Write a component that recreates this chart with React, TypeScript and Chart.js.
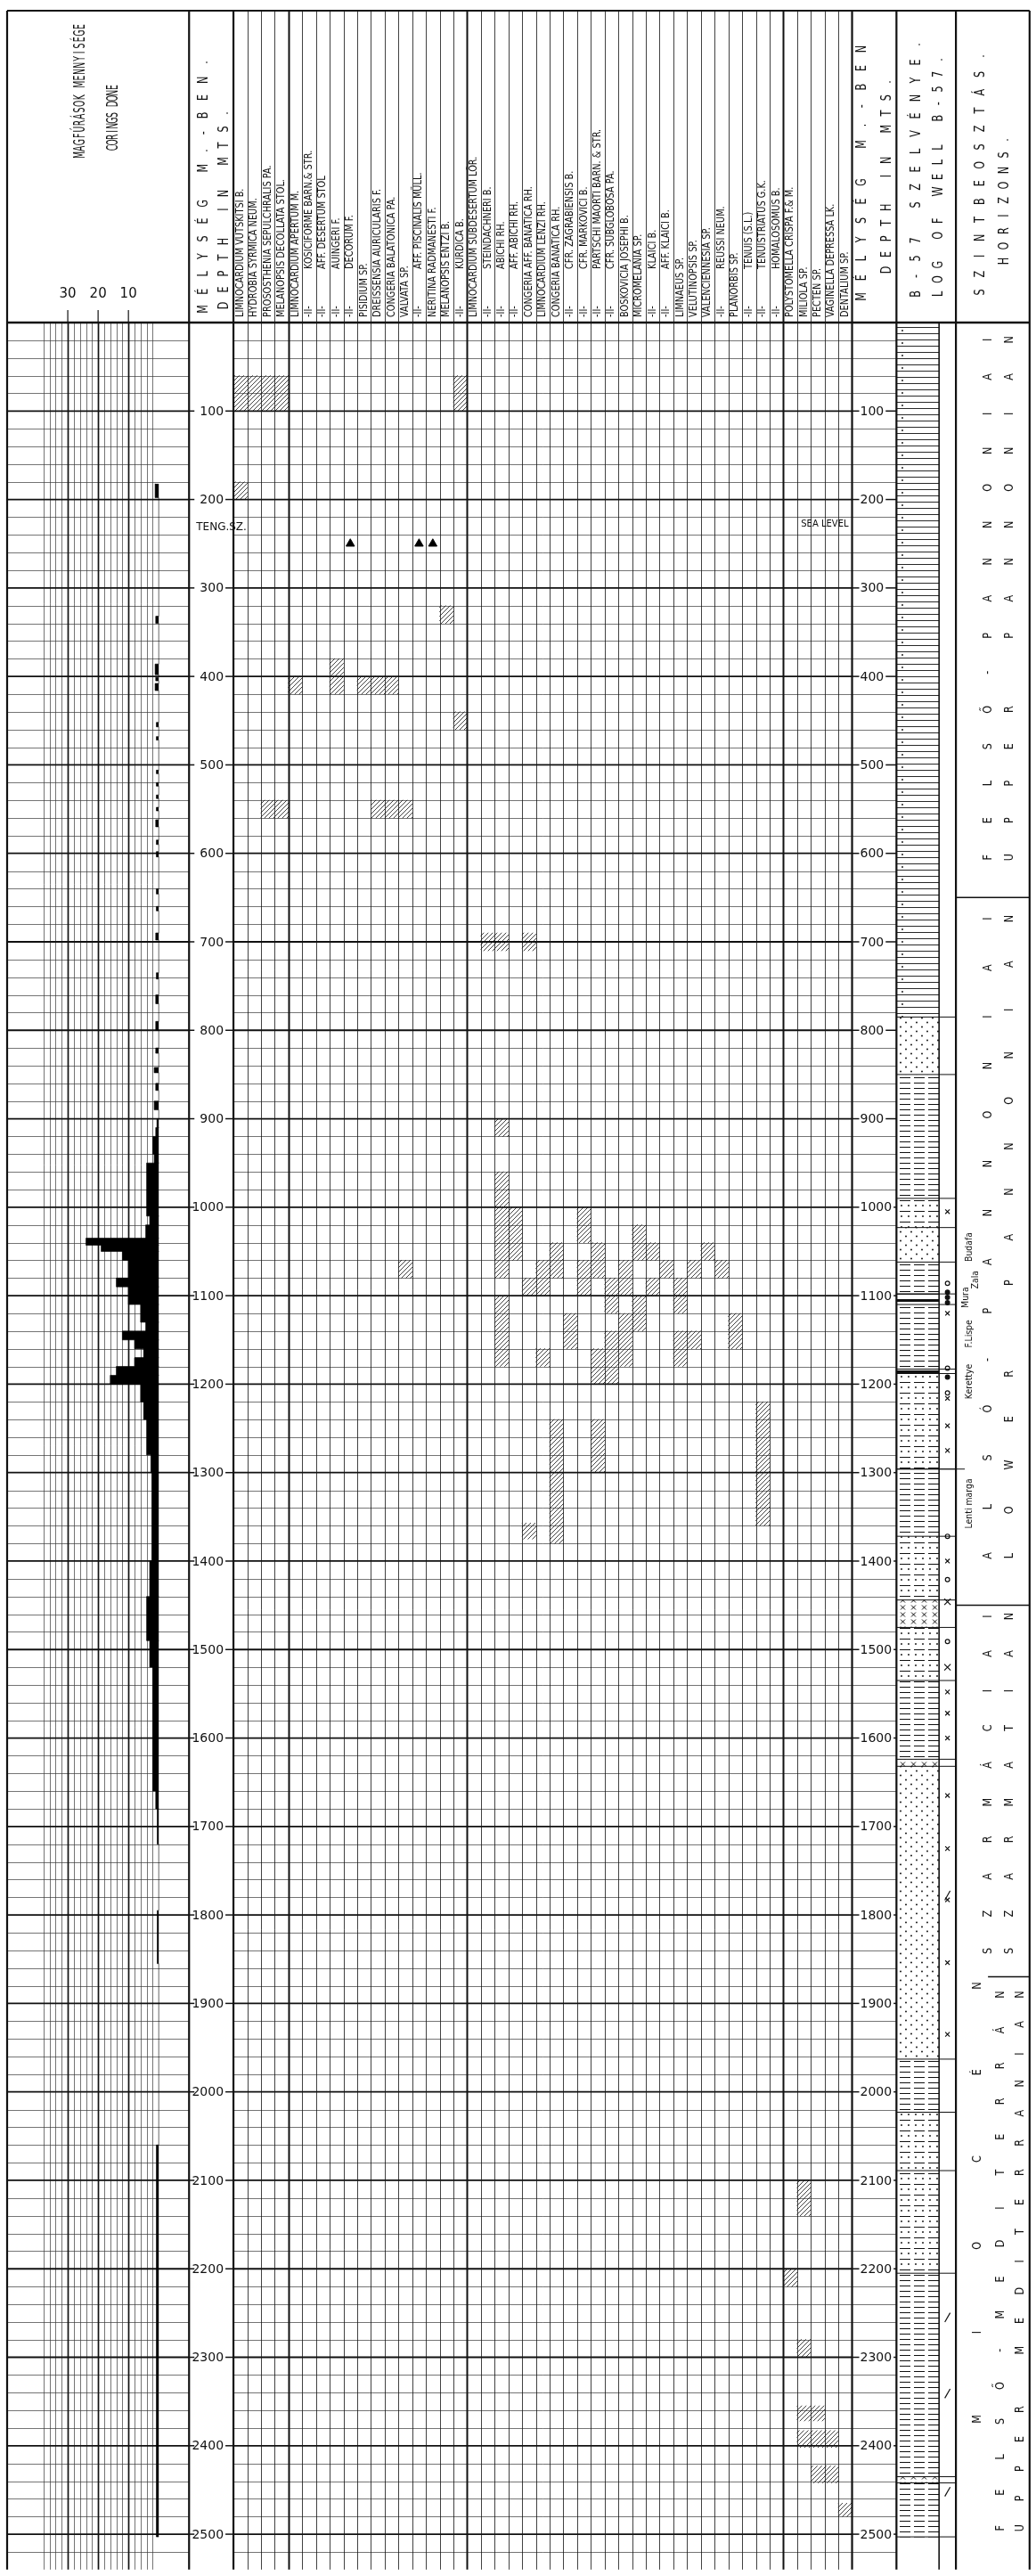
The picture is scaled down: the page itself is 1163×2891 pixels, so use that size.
import React, { useEffect, useRef } from 'react';
import { Chart, registerables } from 'chart.js';

Chart.register(...registerables);

// ------------------------------------------------------------------ DATA
const depthMin = 0;
const depthMax = 2540;
const depthTicks = [100, 200, 300, 400, 500, 600, 700, 800, 900, 1000, 1100, 1200, 1300, 1400, 1500, 1600, 1700, 1800, 1900, 2000, 2100, 2200, 2300, 2400, 2500];
const coringMax = 40;
const coringTicks = [30, 20, 10];

const fossilGroup1 = [
  'LIMNOCARDIUM VUTSKITSI B.',
  'HYDROBIA SYRMICA NEUM.',
  'PROSOSTHENIA SEPULCHRALIS PA.',
  'MELANOPSIS DECOLLATA STOL.',
];
const fossilGroup2 = [
  'LIMNOCARDIUM APERTUM M.',
  '-II-|KOSICIFORME BARN.& STR.',
  '-II-|AFF. DESERTUM STOL',
  '-II-|AUINGERI F.',
  '-II-|DECORUM F.',
  'PISIDIUM SP.',
  'DREISSENSIA AURICULARIS F.',
  'CONGERIA BALATONICA PA.',
  'VALVATA SP.',
  '-II-|AFF. PISCINALIS MÜLL.',
  'NERITINA RADMANESTI F.',
  'MELANOPSIS ENTZI B.',
  '-II-|KURDICA B.',
];
const fossilGroup3 = [
  'LIMNOCARDIUM SUBDESERTUM LÖR.',
  '-II-|STEINDACHNERI B.',
  '-II-|ABICHI RH.',
  '-II-|AFF. ABICHI RH.',
  'CONGERIA AFF. BANATICA RH.',
  'LIMNOCARDIUM LENZI RH.',
  'CONGERIA BANATICA RH.',
  '-II-|CFR. ZAGRABIENSIS B.',
  '-II-|CFR. MARKOVICI B.',
  '-II-|PARTSCHI MAORTI BARN. & STR.',
  '-II-|CFR. SUBGLOBOSA PA.',
  'BOSKOVICIA JOSEPHI B.',
  'MICROMELANIA SP.',
  '-II-|KLAICI B.',
  '-II-|AFF. KLAICI B.',
  'LIMNAEUS SP.',
  'VELUTINOPSIS SP.',
  'VALENCIENNESIA SP.',
  '-II-|REUSSI NEUM.',
  'PLANORBIS SP.',
  '-II-|TENUIS (S.L.)',
  '-II-|TENUISTRIATUS G.K.',
  '-II-|HOMALOSOMUS B.',
];
const fossilGroup4 = [
  'POLYSTOMELLA CRISPA F.& M.',
  'MILIOLA SP.',
  'PECTEN SP.',
  'VAGINELLA DEPRESSA LK.',
  'DENTALIUM SP.',
];
const fossilNames = [...fossilGroup1, ...fossilGroup2, ...fossilGroup3, ...fossilGroup4];
const fossilGroupSizes = [fossilGroup1.length, fossilGroup2.length, fossilGroup3.length, fossilGroup4.length];

// [column index, top depth, bottom depth]
const fossilOccurrences: [number, number, number][] = [
  [0, 60, 100], [1, 60, 100], [2, 60, 100], [3, 60, 100], [16, 60, 100],
  [0, 180, 200],
  [15, 320, 340],
  [7, 380, 420], [4, 400, 420], [9, 400, 420], [10, 400, 420], [11, 400, 420],
  [16, 440, 460],
  [2, 540, 560], [3, 540, 560], [10, 540, 560], [11, 540, 560], [12, 540, 560],
  [18, 690, 710], [19, 690, 710], [21, 690, 710],
  [19, 900, 920],
  [12, 1060, 1080],
  [19, 960, 1080], [19, 1100, 1180],
  [20, 1000, 1060],
  [21, 1080, 1100], [21, 1357, 1375],
  [22, 1060, 1100], [22, 1160, 1180],
  [23, 1040, 1080], [23, 1240, 1380],
  [24, 1120, 1160],
  [25, 1000, 1040], [25, 1060, 1100],
  [26, 1040, 1080], [26, 1160, 1200], [26, 1240, 1300],
  [27, 1080, 1120], [27, 1140, 1200],
  [28, 1060, 1100], [28, 1120, 1180],
  [29, 1020, 1060], [29, 1100, 1140],
  [30, 1040, 1060], [30, 1080, 1100],
  [31, 1060, 1080],
  [32, 1080, 1120], [32, 1140, 1180],
  [33, 1060, 1080], [33, 1140, 1160],
  [34, 1040, 1060],
  [35, 1060, 1080],
  [36, 1120, 1160],
  [38, 1220, 1360],
  [41, 2100, 2140], [40, 2200, 2220], [41, 2280, 2300],
  [41, 2355, 2372], [42, 2355, 2372],
  [41, 2383, 2402], [42, 2383, 2402], [43, 2383, 2402],
  [42, 2423, 2442], [43, 2423, 2442], [44, 2465, 2480],
];
// [column index, depth]
const fossilTriangles: [number, number][] = [[8, 250], [13, 250], [14, 250]];

// [top depth, bottom depth, number of corings]
const coringIntervals: [number, number, number][] = [
  [182, 198, 1.2], [332, 340, 1.0], [386, 398, 1.2], [401, 405, 1.0], [408, 416, 1.2],
  [452, 457, 0.8], [468, 472, 0.8], [506, 510, 0.8], [520, 524, 0.8], [534, 538, 0.8],
  [548, 552, 0.8], [562, 570, 1.0], [585, 590, 0.8], [598, 604, 0.8], [640, 646, 0.8],
  [660, 665, 0.8], [690, 698, 1.0], [735, 742, 0.8], [760, 770, 1.0], [790, 800, 1.0],
  [820, 826, 1.0], [842, 848, 1.5], [860, 868, 1.0], [880, 890, 1.5], [900, 910, 0.6],
  [910, 920, 1.0], [920, 940, 2.0], [940, 950, 1.5], [950, 1010, 4.0], [1010, 1020, 3.0],
  [1020, 1035, 4.3], [1035, 1043, 24], [1043, 1050, 19], [1050, 1060, 12], [1060, 1080, 10],
  [1080, 1090, 14], [1090, 1110, 10], [1110, 1130, 6], [1130, 1140, 4.3], [1140, 1150, 12],
  [1150, 1160, 8], [1160, 1170, 5], [1170, 1180, 8], [1180, 1190, 14], [1190, 1200, 16],
  [1200, 1220, 6], [1220, 1240, 5], [1240, 1280, 4], [1280, 1300, 2.6], [1300, 1400, 2.3],
  [1400, 1440, 3], [1440, 1490, 4], [1490, 1520, 3], [1520, 1660, 2], [1660, 1680, 1],
  [1680, 1720, 0.5], [1795, 1855, 0.5], [2060, 2503, 0.8],
];

// [top depth, bottom depth, lithology]
const lithologyIntervals: [number, number, string][] = [
  [0, 785, 'marl'], [785, 850, 'sand'], [850, 990, 'clay'], [990, 1023, 'sandclay'],
  [1023, 1062, 'sand'], [1062, 1098, 'clay'], [1098, 1110, 'coal'], [1110, 1183, 'clay'],
  [1183, 1188, 'coal'], [1188, 1296, 'sandclay'], [1296, 1372, 'clay'], [1372, 1444, 'sandclay'],
  [1444, 1475, 'cross'], [1475, 1535, 'sandclay'], [1535, 1624, 'clay'], [1624, 1632, 'cross'],
  [1632, 1963, 'sand'], [1963, 2023, 'clay'], [2023, 2089, 'sandclay'], [2089, 2205, 'sandclay'],
  [2205, 2435, 'clay'], [2435, 2442, 'cross'], [2442, 2503, 'clay'],
];
// [depth, symbol]
const lithologySymbols: [number, string][] = [
  [1005, 'x'], [1086, 'o'], [1096, '•'], [1102, '•'], [1108, '•'], [1120, 'x'], [1182, 'o'],
  [1192, '•'], [1210, 'o'], [1216, 'x'], [1247, 'x'], [1275, 'x'], [1372, 'o'], [1400, 'x'],
  [1421, 'o'], [1446, 'X'], [1491, 'o'], [1520, 'X'], [1548, 'x'], [1572, 'x'], [1600, 'x'],
  [1665, 'x'], [1725, 'x'], [1778, '/'], [1783, 'x'], [1854, 'x'], [1935, 'x'],
  [2255, '/'], [2341, '/'], [2452, '/'],
];

const horizonBoundaries = [650, 1450, 1870];
const horizonNamesHU = ['FELSŐ-PANNONIAI', 'ALSÓ-PANNONIAI', 'SZARMÁCIAI', 'FELSŐ-MEDITERRÁN'];
const horizonNamesEN = ['UPPER PANNONIAN', 'LOWER PANNONIAN', 'SZARMATIAN', 'UPPER MEDITERRANIAN'];
const epochName = 'MIOCÉN';
const epochRange = [1880, 2370];
// [name, centre depth, offset in horizon column]
const formationLabels: [string, number, number][] = [
  ['Budafa', 1045, 15], ['Zala', 1082, 22], ['Mura', 1102, 11], ['F.Lispe', 1143, 15],
  ['Kerettye', 1197, 15], ['Lenti marga', 1335, 15],
];
const seaLevelDepth = 228;

// ------------------------------------------------------------------ HELPERS
const FONT = '"DejaVu Sans", "Liberation Sans", sans-serif';

function spacedV(ctx: any, text: string, x: number, yBottom: number, yTop: number, size: number, squeeze = 0.75) {
  const chars = Array.from(text);
  const n = chars.length;
  const step = n > 1 ? (yBottom - yTop) / (n - 1) : 0;
  ctx.save();
  ctx.font = `${size}px ${FONT}`;
  ctx.textAlign = 'center';
  ctx.textBaseline = 'middle';
  chars.forEach((ch, i) => {
    if (ch === ' ') return;
    ctx.save();
    ctx.translate(x, yBottom - i * step);
    ctx.rotate(-Math.PI / 2);
    ctx.scale(squeeze, 1);
    ctx.fillText(ch, 0, 0);
    ctx.restore();
  });
  ctx.restore();
}

function labelV(ctx: any, text: string, x: number, yStart: number, size: number, squeeze = 0.85, align = 'left') {
  ctx.save();
  ctx.translate(x, yStart);
  ctx.rotate(-Math.PI / 2);
  ctx.scale(squeeze, 1);
  ctx.font = `${size}px ${FONT}`;
  ctx.textAlign = align;
  ctx.textBaseline = 'middle';
  ctx.fillText(text, 0, 0);
  ctx.restore();
}

function hLine(ctx: any, x1: number, x2: number, y: number, w: number) {
  ctx.lineWidth = w;
  ctx.beginPath();
  ctx.moveTo(x1, y);
  ctx.lineTo(x2, y);
  ctx.stroke();
}
function vLine(ctx: any, x: number, y1: number, y2: number, w: number) {
  ctx.lineWidth = w;
  ctx.beginPath();
  ctx.moveTo(x, y1);
  ctx.lineTo(x, y2);
  ctx.stroke();
}

function makePatterns() {
  const mk = (w: number, h: number, draw: (g: any) => void) => {
    const c = document.createElement('canvas');
    c.width = w;
    c.height = h;
    const g: any = c.getContext('2d');
    g.strokeStyle = '#111';
    g.fillStyle = '#111';
    draw(g);
    return g.createPattern(c, 'repeat');
  };
  const dot = (g: any, x: number, y: number, r = 0.95) => {
    g.beginPath();
    g.arc(x, y, r, 0, Math.PI * 2);
    g.fill();
  };
  return {
    hatch: mk(5, 5, (g) => {
      g.lineWidth = 0.8;
      g.beginPath();
      g.moveTo(0, 5); g.lineTo(5, 0);
      g.moveTo(-1, 1); g.lineTo(1, -1);
      g.moveTo(4, 6); g.lineTo(6, 4);
      g.stroke();
    }),
    clay: mk(16, 6, (g) => {
      g.lineWidth = 1;
      g.beginPath(); g.moveTo(2, 3.5); g.lineTo(14, 3.5); g.stroke();
    }),
    marl: mk(48, 14, (g) => {
      g.lineWidth = 0.9;
      g.beginPath(); g.moveTo(0, 3.5); g.lineTo(48, 3.5); g.moveTo(0, 10.5); g.lineTo(48, 10.5); g.stroke();
      dot(g, 5, 7);
    }),
    sand: mk(12, 10, (g) => { dot(g, 3, 2.5); dot(g, 9, 7.5); }),
    sandclay: mk(16, 12, (g) => {
      g.lineWidth = 1;
      g.beginPath(); g.moveTo(2, 3.5); g.lineTo(14, 3.5); g.stroke();
      dot(g, 4, 9); dot(g, 12, 9);
    }),
    coal: mk(16, 8, (g) => { g.fillRect(0, 2, 16, 3); }),
    cross: mk(12, 8, (g) => {
      g.lineWidth = 1;
      g.beginPath(); g.moveTo(3, 1.5); g.lineTo(8, 6.5); g.moveTo(8, 1.5); g.lineTo(3, 6.5); g.stroke();
    }),
  } as Record<string, any>;
}

// ------------------------------------------------------------------ PLUGIN
const wellLogPlugin = {
  id: 'wellLog',
  beforeDraw(chart: any) {
    const { ctx, width, height } = chart;
    ctx.save();
    ctx.fillStyle = '#fff';
    ctx.fillRect(0, 0, width, height);
    ctx.restore();
  },
  beforeDatasetsDraw(chart: any) {
    const { ctx, scales, chartArea } = chart;
    const { top, bottom } = chartArea;
    const y = scales.y, xc = scales.xCor, xf = scales.xFos, xdr = scales.xDepthR;
    ctx.save();
    ctx.strokeStyle = '#3a3a3a';
    for (let d = 20; d < depthMax; d += 20) {
      if (d % 100 === 0) continue;
      const py = Math.round(y.getPixelForValue(d)) + 0.5;
      hLine(ctx, xc.left, xc.right, py, 0.7);
      hLine(ctx, xf.left, xf.right, py, 0.7);
      hLine(ctx, xdr.left, xdr.right, py, 0.7);
    }
    for (let v = 2; v < coringMax; v += 2) {
      const px = Math.round(xc.getPixelForValue(v)) + 0.5;
      if (v % 10 === 0) {
        ctx.strokeStyle = '#111';
        vLine(ctx, px, top, bottom, 1.7);
      } else {
        ctx.strokeStyle = '#3a3a3a';
        vLine(ctx, px, top, bottom, 0.7);
      }
    }
    ctx.strokeStyle = '#111';
    depthTicks.forEach((d) => {
      const py = y.getPixelForValue(d);
      hLine(ctx, xc.left, xc.right, py, 1.8);
      hLine(ctx, xf.left, xf.right, py, 1.8);
    });
    ctx.restore();
  },
  afterDatasetsDraw(chart: any) {
    const { ctx, scales, chartArea } = chart;
    const { top, bottom } = chartArea;
    const y = scales.y, xc = scales.xCor, xdl = scales.xDepthL, xf = scales.xFos;
    const xdr = scales.xDepthR, xl = scales.xLith, xs = scales.xSym, xh = scales.xHor;
    const headTop = 12;
    const nCols = fossilNames.length;
    const colEdge = (i: number) => (i <= 0 ? xf.left : i >= nCols ? xf.right : (xf.getPixelForValue(i - 1) + xf.getPixelForValue(i)) / 2);
    ctx.save();
    ctx.strokeStyle = '#111';
    ctx.fillStyle = '#111';

    const groupEdges: number[] = [];
    let acc = 0;
    fossilGroupSizes.forEach((s) => { acc += s; groupEdges.push(acc); });
    for (let i = 1; i < nCols; i++) {
      const px = Math.round(colEdge(i)) + 0.5;
      if (groupEdges.includes(i)) vLine(ctx, px, headTop, bottom, 2);
      else vLine(ctx, px, headTop, bottom, 0.8);
    }

    lithologyIntervals.forEach(([t]) => {
      if (t <= 0) return;
      hLine(ctx, xl.left, xs.right, y.getPixelForValue(t), 1);
    });
    hLine(ctx, xl.left, xs.right, y.getPixelForValue(lithologyIntervals[lithologyIntervals.length - 1][1]), 1);

    ctx.font = `14px ${FONT}`;
    ctx.textBaseline = 'middle';
    depthTicks.forEach((d) => {
      const py = y.getPixelForValue(d);
      hLine(ctx, xdl.left, xdl.left + 6, py, 1.5);
      hLine(ctx, xdl.right - 9, xdl.right, py, 1.5);
      ctx.textAlign = 'right';
      ctx.fillText(String(d), xdl.right - 11, py + 1);
      hLine(ctx, xdr.left, xdr.left + 8, py, 1.5);
      ctx.textAlign = 'left';
      const label = String(d);
      ctx.fillText(label, xdr.left + 9, py + 1);
      const w = ctx.measureText(label).width;
      hLine(ctx, xdr.left + 11 + w, xdr.right, py, 1.5);
    });

    ctx.font = `12px ${FONT}`;
    ctx.textAlign = 'left';
    ctx.fillText('TENG.SZ.', xdl.left + 8, y.getPixelForValue(seaLevelDepth + 4));
    ctx.font = `10px ${FONT}`;
    ctx.textAlign = 'right';
    ctx.fillText('SEA LEVEL', xf.right - 4, y.getPixelForValue(seaLevelDepth));

    const hb = horizonBoundaries;
    hLine(ctx, xh.left, xh.right, y.getPixelForValue(hb[0]), 1.5);
    hLine(ctx, xs.right, xh.right, y.getPixelForValue(hb[1]), 1.5);
    hLine(ctx, xh.left + 36, xh.right, y.getPixelForValue(hb[2]), 1.5);

    const sections = [[0, hb[0]], [hb[0], hb[1]], [hb[1], hb[2]], [hb[2], depthMax]];
    sections.forEach(([a, b], i) => {
      const pa = y.getPixelForValue(a), pb = y.getPixelForValue(b);
      const len = pb - pa;
      const xHU = i < 3 ? xh.left + 36 : xh.left + 50;
      const xEN = i < 3 ? xh.left + 60 : xh.left + 72;
      spacedV(ctx, horizonNamesHU[i], xHU, pb - len * 0.07, pa + len * 0.03, 14, 0.8);
      spacedV(ctx, horizonNamesEN[i], xEN, pb - len * 0.07, pa + len * 0.03, 14, 0.8);
    });
    spacedV(ctx, epochName, xh.left + 24, y.getPixelForValue(epochRange[1]), y.getPixelForValue(epochRange[0]), 14, 0.8);

    formationLabels.forEach(([name, d, off]) => {
      labelV(ctx, name, xh.left + off, y.getPixelForValue(d), 11, 0.85, 'center');
    });
    hLine(ctx, xl.left, xh.left + 10, y.getPixelForValue(1296), 1);

    // ---------------- header
    fossilNames.forEach((name, i) => {
      const px = xf.getPixelForValue(i);
      const yb = top - 6;
      if (name.startsWith('-II-|')) {
        labelV(ctx, '-II-', px, yb, 11.5, 0.85);
        labelV(ctx, name.slice(5), px, yb - 54, 11.5, 0.85);
      } else {
        labelV(ctx, name, px, yb, 11.5, 0.85);
      }
    });
    const cMid = (xc.left + xc.right) / 2;
    spacedV(ctx, 'MAGFÚRÁSOK MENNYISÉGE', cMid - 20, 174, 30, 17, 0.55);
    spacedV(ctx, 'CORINGS DONE', cMid + 17, 166, 98, 17, 0.55);
    ctx.font = `15px ${FONT}`;
    ctx.textAlign = 'center';
    ctx.textBaseline = 'middle';
    coringTicks.forEach((v) => {
      const px = xc.getPixelForValue(v);
      ctx.fillText(String(v), px, top - 32);
      vLine(ctx, px, top - 14, top, 1.2);
    });
    spacedV(ctx, 'MÉLYSÉG M.-BEN.', xdl.left + 17, 347, 70, 16, 0.7);
    spacedV(ctx, 'DEPTH IN MTS.', xdl.left + 40, 343, 127, 16, 0.7);
    spacedV(ctx, 'MÉLYSÉG M.-BEN', xdr.left + 11, 333, 55, 16, 0.7);
    spacedV(ctx, 'DEPTH IN MTS.', xdr.left + 39, 303, 92, 16, 0.7);
    spacedV(ctx, 'B-57 SZELVÉNYE.', xl.left + 22, 330, 50, 16, 0.7);
    spacedV(ctx, 'LOG OF WELL B-57.', xl.left + 47, 330, 67, 16, 0.7);
    spacedV(ctx, 'SZINTBEOSZTÁS.', xh.left + 28, 328, 63, 16, 0.7);
    spacedV(ctx, 'HORIZONS.', xh.left + 55, 293, 157, 16, 0.7);

    hLine(ctx, xc.left, xh.right, headTop, 2.2);
    hLine(ctx, xc.left, xh.right, top, 2.4);
    [xc.left, xc.right, xdl.right, xf.right, xdr.right, xs.right, xh.right].forEach((px) => vLine(ctx, px, headTop, bottom, 2.2));
    vLine(ctx, xl.right, top, bottom, 1.6);
    ctx.restore();
  },
};

// ------------------------------------------------------------------ COMPONENT
export default function App() {
  const ref = useRef<HTMLCanvasElement>(null);
  useEffect(() => {
    document.body.style.margin = '0';
    document.body.style.overflow = 'hidden';
    const canvas = ref.current;
    if (!canvas) return;
    const patterns = makePatterns();

    const coringPoints: { x: number; y: number }[] = [];
    coringIntervals.forEach(([t, b, v]) => {
      coringPoints.push({ x: v, y: t });
      coringPoints.push({ x: 0, y: b });
    });

    const scaleBase = { position: 'top', display: false, stack: 'panels', ticks: { display: false, autoSkip: false }, grid: { display: false } };

    const chart = new Chart(canvas, {
      type: 'bar',
      data: {
        datasets: [
          {
            type: 'line',
            label: 'Corings done',
            indexAxis: 'y',
            xAxisID: 'xCor',
            yAxisID: 'y',
            data: coringPoints,
            stepped: 'after',
            fill: 'origin',
            backgroundColor: '#000',
            borderColor: '#000',
            borderWidth: 0.6,
            pointRadius: 0,
          } as any,
          {
            type: 'bar',
            label: 'Fossils',
            xAxisID: 'xFos',
            yAxisID: 'y',
            data: fossilOccurrences.map(([c, t, b]) => ({ x: fossilNames[c], y: [t, b] })),
            backgroundColor: patterns.hatch,
            borderWidth: 0,
            grouped: false,
            barPercentage: 1,
            categoryPercentage: 1,
          } as any,
          {
            type: 'scatter',
            label: 'Fossil marks',
            xAxisID: 'xFos',
            yAxisID: 'y',
            data: fossilTriangles.map(([c, d]) => ({ x: fossilNames[c], y: d })),
            pointStyle: 'triangle',
            pointRadius: 5.5,
            backgroundColor: '#000',
            borderColor: '#000',
          } as any,
          {
            type: 'bar',
            label: 'Log',
            xAxisID: 'xLith',
            yAxisID: 'y',
            data: lithologyIntervals.map(([t, b, k]) => ({ x: 'B-57', y: [t, b], k })),
            backgroundColor: (c: any) => (c.raw ? patterns[c.raw.k] : '#fff'),
            borderWidth: 0,
            grouped: false,
            barPercentage: 1,
            categoryPercentage: 1,
          } as any,
          {
            type: 'scatter',
            label: 'Symbols',
            xAxisID: 'xSym',
            yAxisID: 'y',
            data: lithologySymbols.map(([d, s]) => ({ x: 'SYM', y: d, s })),
            pointStyle: (c: any) => {
              const s = c.raw ? c.raw.s : 'x';
              if (s === 'x' || s === 'X') return 'crossRot';
              if (s === '/') return 'line';
              return 'circle';
            },
            rotation: (c: any) => (c.raw && c.raw.s === '/' ? -60 : 0),
            pointRadius: (c: any) => {
              const s = c.raw ? c.raw.s : 'x';
              return s === 'X' ? 5 : s === '/' ? 6 : s === 'x' ? 3.5 : 2.4;
            },
            borderWidth: 1.2,
            borderColor: '#111',
            backgroundColor: (c: any) => (c.raw && c.raw.s === 'o' ? '#fff' : '#111'),
          } as any,
        ],
      },
      options: {
        responsive: false,
        animation: false,
        devicePixelRatio: 1,
        layout: { padding: { top: 362, left: 8, right: 3, bottom: 0 } },
        plugins: { legend: { display: false }, tooltip: { enabled: false }, title: { display: false } },
        scales: {
          y: { type: 'linear', min: depthMin, max: depthMax, reverse: true, display: false },
          xCor: { ...scaleBase, type: 'linear', min: 0, max: coringMax, reverse: true, stackWeight: 205, weight: 7 },
          xDepthL: { ...scaleBase, type: 'linear', min: 0, max: 1, stackWeight: 50, weight: 6 },
          xFos: { ...scaleBase, type: 'category', labels: fossilNames, offset: true, stackWeight: 697, weight: 5 },
          xDepthR: { ...scaleBase, type: 'linear', min: 0, max: 1, stackWeight: 50, weight: 4 },
          xLith: { ...scaleBase, type: 'category', labels: ['B-57'], offset: true, stackWeight: 48, weight: 3 },
          xSym: { ...scaleBase, type: 'category', labels: ['SYM'], offset: true, stackWeight: 19, weight: 2 },
          xHor: { ...scaleBase, type: 'linear', min: 0, max: 1, stackWeight: 83, weight: 1 },
        } as any,
      },
      plugins: [wellLogPlugin],
    } as any);
    return () => chart.destroy();
  }, []);
  return <canvas ref={ref} width={1163} height={2891} style={{ display: 'block', width: 1163, height: 2891 }} />;
}
